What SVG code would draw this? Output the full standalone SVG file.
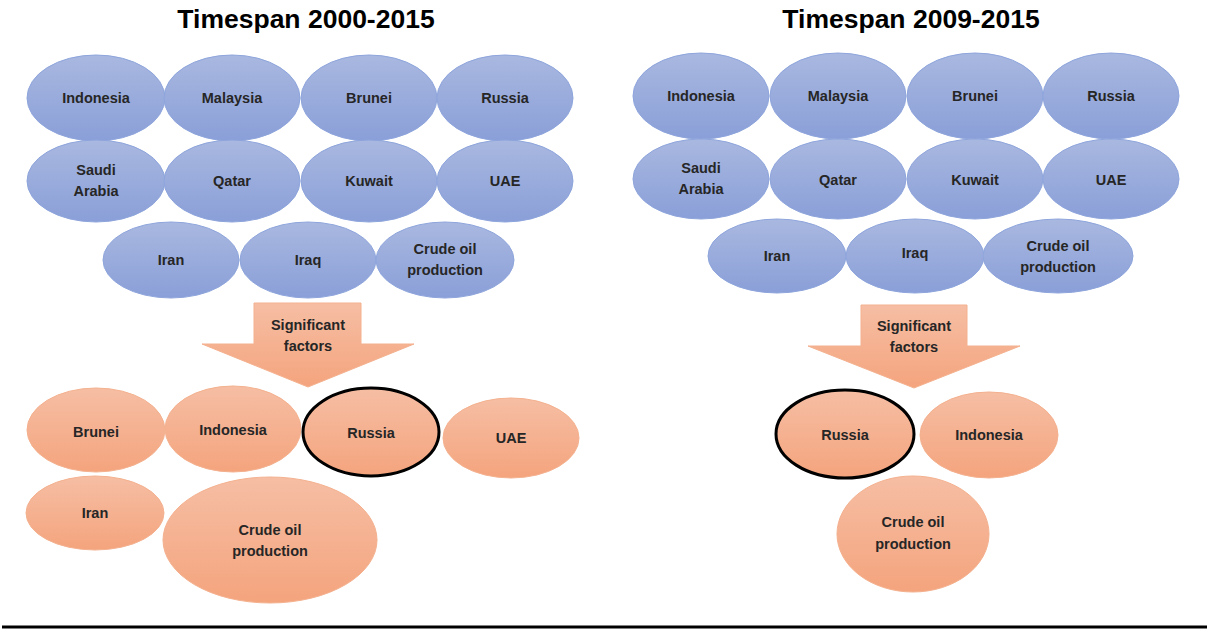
<svg xmlns="http://www.w3.org/2000/svg" width="1207" height="629" viewBox="0 0 1207 629">
<defs>
<linearGradient id="gb" x1="0" y1="0" x2="0" y2="1">
<stop offset="0" stop-color="#a9b8e0"/>
<stop offset="1" stop-color="#8a9fd8"/>
</linearGradient>
<linearGradient id="go" x1="0" y1="0" x2="0" y2="1">
<stop offset="0" stop-color="#f6bea4"/>
<stop offset="1" stop-color="#f4a47d"/>
</linearGradient>
<style>
.b{fill:url(#gb);stroke:#8ea5dc;stroke-width:1}
.o{fill:url(#go);stroke:#f4b18f;stroke-width:1}
.k{fill:url(#go);stroke:#000;stroke-width:3}
.t{font-family:"Liberation Sans",Arial,sans-serif;font-weight:bold;font-size:14.5px;fill:#262626;text-anchor:middle}
.h{font-family:"Liberation Sans",Arial,sans-serif;font-weight:bold;font-size:26.5px;fill:#000;text-anchor:middle}
</style>
</defs>
<rect width="1207" height="629" fill="#fff"/>
<text class="h" x="306" y="28">Timespan 2000-2015</text>
<text class="h" x="911" y="28">Timespan 2009-2015</text>

<g id="L-Indonesia"><ellipse class="b" cx="96" cy="98" rx="69" ry="43"/><text class="t" x="96" y="103">Indonesia</text></g>
<g id="L-Malaysia"><ellipse class="b" cx="232" cy="98" rx="68" ry="43"/><text class="t" x="232" y="103">Malaysia</text></g>
<g id="L-Brunei"><ellipse class="b" cx="369" cy="98" rx="68" ry="43"/><text class="t" x="369" y="103">Brunei</text></g>
<g id="L-Russia"><ellipse class="b" cx="505" cy="98" rx="68" ry="43"/><text class="t" x="505" y="103">Russia</text></g>
<g id="L-Saudi"><ellipse class="b" cx="96" cy="181" rx="69" ry="41"/><text class="t" x="96" y="175">Saudi</text><text class="t" x="96" y="196">Arabia</text></g>
<g id="L-Qatar"><ellipse class="b" cx="232" cy="181" rx="68" ry="41"/><text class="t" x="232" y="186">Qatar</text></g>
<g id="L-Kuwait"><ellipse class="b" cx="369" cy="181" rx="68" ry="41"/><text class="t" x="369" y="186">Kuwait</text></g>
<g id="L-UAE"><ellipse class="b" cx="505" cy="181" rx="68" ry="41"/><text class="t" x="505" y="186">UAE</text></g>
<g id="L-Iran"><ellipse class="b" cx="171" cy="260" rx="68" ry="38"/><text class="t" x="171" y="265">Iran</text></g>
<g id="L-Iraq"><ellipse class="b" cx="308" cy="260" rx="68" ry="38"/><text class="t" x="308" y="265">Iraq</text></g>
<g id="L-Crude"><ellipse class="b" cx="445" cy="260" rx="69" ry="38"/><text class="t" x="445" y="254">Crude oil</text><text class="t" x="445" y="275">production</text></g>

<g id="L-Arrow"><polygon class="o" points="254,303 361,303 361,344 414,344 308,387 202,344 254,344"/><text class="t" x="308" y="330">Significant</text><text class="t" x="308" y="351">factors</text></g>

<g id="L-Brunei2"><ellipse class="o" cx="96" cy="430" rx="69" ry="42"/><text class="t" x="96" y="437">Brunei</text></g>
<g id="L-Indonesia2"><ellipse class="o" cx="233" cy="429" rx="68" ry="43"/><text class="t" x="233" y="435">Indonesia</text></g>
<g id="L-Russia2"><ellipse class="k" cx="371" cy="432" rx="68" ry="44"/><text class="t" x="371" y="438">Russia</text></g>
<g id="L-UAE2"><ellipse class="o" cx="511" cy="438" rx="68" ry="40"/><text class="t" x="511" y="443">UAE</text></g>
<g id="L-Iran2"><ellipse class="o" cx="95" cy="513" rx="69" ry="37"/><text class="t" x="95" y="518">Iran</text></g>
<g id="L-Crude2"><ellipse class="o" cx="270" cy="540" rx="107" ry="63"/><text class="t" x="270" y="535">Crude oil</text><text class="t" x="270" y="556">production</text></g>

<g id="R-Indonesia"><ellipse class="b" cx="701" cy="96" rx="68" ry="43"/><text class="t" x="701" y="101">Indonesia</text></g>
<g id="R-Malaysia"><ellipse class="b" cx="838" cy="96" rx="68" ry="43"/><text class="t" x="838" y="101">Malaysia</text></g>
<g id="R-Brunei"><ellipse class="b" cx="975" cy="96" rx="68" ry="43"/><text class="t" x="975" y="101">Brunei</text></g>
<g id="R-Russia"><ellipse class="b" cx="1111" cy="96" rx="68" ry="43"/><text class="t" x="1111" y="101">Russia</text></g>
<g id="R-Saudi"><ellipse class="b" cx="701" cy="179" rx="68" ry="40"/><text class="t" x="701" y="173">Saudi</text><text class="t" x="701" y="194">Arabia</text></g>
<g id="R-Qatar"><ellipse class="b" cx="838" cy="179" rx="68" ry="40"/><text class="t" x="838" y="185">Qatar</text></g>
<g id="R-Kuwait"><ellipse class="b" cx="975" cy="179" rx="68" ry="40"/><text class="t" x="975" y="185">Kuwait</text></g>
<g id="R-UAE"><ellipse class="b" cx="1111" cy="179" rx="68" ry="40"/><text class="t" x="1111" y="185">UAE</text></g>
<g id="R-Iran"><ellipse class="b" cx="777" cy="256" rx="69" ry="37"/><text class="t" x="777" y="261">Iran</text></g>
<g id="R-Iraq"><ellipse class="b" cx="915" cy="256" rx="69" ry="37"/><text class="t" x="915" y="258">Iraq</text></g>
<g id="R-Crude"><ellipse class="b" cx="1058" cy="256" rx="75" ry="37"/><text class="t" x="1058" y="251">Crude oil</text><text class="t" x="1058" y="272">production</text></g>

<g id="R-Arrow"><polygon class="o" points="861,305 967,305 967,346 1020,346 914,388 808,346 861,346"/><text class="t" x="914" y="331">Significant</text><text class="t" x="914" y="352">factors</text></g>

<g id="R-Russia2"><ellipse class="k" cx="845" cy="434" rx="69" ry="44"/><text class="t" x="845" y="440">Russia</text></g>
<g id="R-Indonesia2"><ellipse class="o" cx="989" cy="435" rx="69" ry="43"/><text class="t" x="989" y="440">Indonesia</text></g>
<g id="R-Crude2"><ellipse class="o" cx="913" cy="534" rx="76" ry="58"/><text class="t" x="913" y="527">Crude oil</text><text class="t" x="913" y="549">production</text></g>

<g id="connectors"></g>
<line x1="2" y1="627" x2="1207" y2="627" stroke="#000" stroke-width="3"/>
</svg>
